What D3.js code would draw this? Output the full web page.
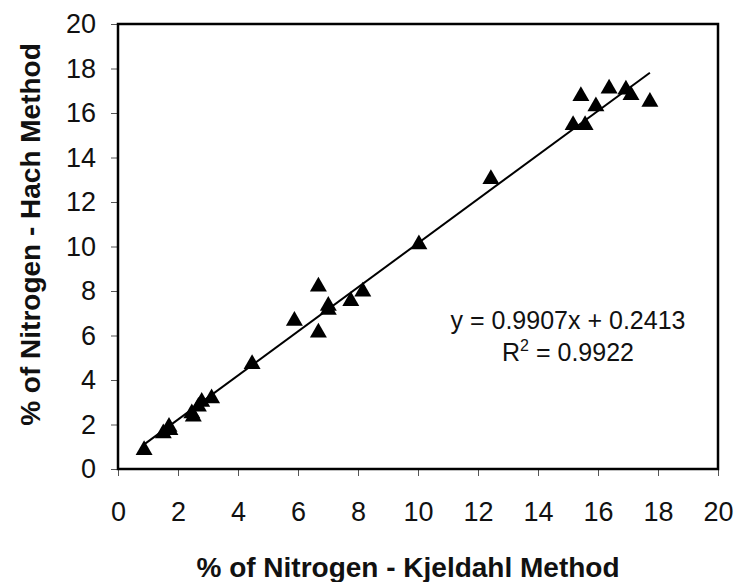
<!DOCTYPE html>
<html>
<head>
<meta charset="utf-8">
<script src="https://cdn.jsdelivr.net/npm/d3@7"></script>
<style>
  body { margin: 0; background: #fff; }
  text { font-family: "Liberation Sans", Arial, sans-serif; }
</style>
</head>
<body>
<svg id="chart" width="736" height="582"></svg>
<script>
// Kjeldahl (x) vs Hach (y) nitrogen
var kjeldahl = [0.87, 1.51, 1.73, 1.70, 2.46, 2.51, 2.68, 2.79, 3.12, 4.47,
                5.88, 6.68, 6.68, 7.01, 7.01, 7.76, 8.16, 10.03, 12.43,
                15.17, 15.57, 15.43, 15.93, 16.37, 16.93, 17.10, 17.73];
var hach =     [0.85, 1.60, 1.75, 1.90, 2.50, 2.35, 2.80, 3.02, 3.18, 4.72,
                6.66, 8.20, 6.13, 7.15, 7.33, 7.55, 7.97, 10.10, 13.03,
                15.46, 15.46, 16.76, 16.30, 17.10, 17.05, 16.80, 16.50];

var slope = 0.9907, intercept = 0.2413;
var fitRange = [0.85, 17.73];
var ticks = [0, 2, 4, 6, 8, 10, 12, 14, 16, 18, 20];

var margin = {top: 24, right: 18, bottom: 113, left: 118};
var width = 736 - margin.left - margin.right,
    height = 582 - margin.top - margin.bottom;

var svg = d3.select('#chart');
var g = svg.append('g').attr('transform', 'translate(' + margin.left + ',' + margin.top + ')');

var x = d3.scaleLinear().domain([0, 20]).range([0, width]);
var y = d3.scaleLinear().domain([0, 20]).range([height, 0]);

var xAxis = g.append('g')
    .attr('transform', 'translate(0,' + height + ')')
    .call(d3.axisBottom(x).tickValues(ticks).tickSize(7).tickPadding(26).tickSizeOuter(0));
var yAxis = g.append('g')
    .call(d3.axisLeft(y).tickValues(ticks).tickSize(7).tickPadding(15).tickSizeOuter(0));

[xAxis, yAxis].forEach(function(a) {
    a.select('.domain').remove();
    a.selectAll('line').attr('stroke', '#555').attr('stroke-width', 1);
    a.selectAll('text').attr('font-size', 27).attr('fill', '#111')
        .style('font-family', '"Liberation Sans", Arial, sans-serif');
});

// frame
g.append('rect')
    .attr('width', width).attr('height', height)
    .attr('fill', 'none').attr('stroke', '#000').attr('stroke-width', 2.5);

// trend line
g.append('line')
    .attr('x1', x(fitRange[0])).attr('y1', y(slope * fitRange[0] + intercept))
    .attr('x2', x(fitRange[1])).attr('y2', y(slope * fitRange[1] + intercept))
    .attr('stroke', '#000').attr('stroke-width', 2);

// points
var tri = d3.symbol().type(d3.symbolTriangle).size(125);
g.selectAll('.pt')
    .data(kjeldahl)
    .enter().append('path')
    .attr('class', 'pt')
    .attr('d', tri)
    .attr('transform', function(d, i) { return 'translate(' + x(d) + ',' + y(hach[i]) + ')'; })
    .attr('fill', '#000');

// equation
var eq = g.append('text')
    .attr('x', x(15.0)).attr('y', y(6.3))
    .attr('text-anchor', 'middle').attr('font-size', 25).attr('fill', '#111');
eq.append('tspan').text('y = 0.9907x + 0.2413');
var r2 = g.append('text')
    .attr('x', x(15.0)).attr('y', y(4.85))
    .attr('text-anchor', 'middle').attr('font-size', 25).attr('fill', '#111');
r2.append('tspan').text('R');
r2.append('tspan').attr('dy', -10).attr('font-size', 16).text('2');
r2.append('tspan').attr('dy', 10).text(' = 0.9922');

// axis titles
svg.append('text')
    .attr('x', margin.left + width / 2 - 10).attr('y', 577)
    .attr('text-anchor', 'middle').attr('font-size', 28).attr('font-weight', 'bold')
    .attr('fill', '#111')
    .text('% of Nitrogen - Kjeldahl Method');
svg.append('text')
    .attr('transform', 'translate(40,' + (margin.top + height / 2 - 12) + ') rotate(-90)')
    .attr('text-anchor', 'middle').attr('font-size', 28).attr('font-weight', 'bold')
    .attr('fill', '#111')
    .text('% of Nitrogen - Hach Method');
</script>
</body>
</html>
